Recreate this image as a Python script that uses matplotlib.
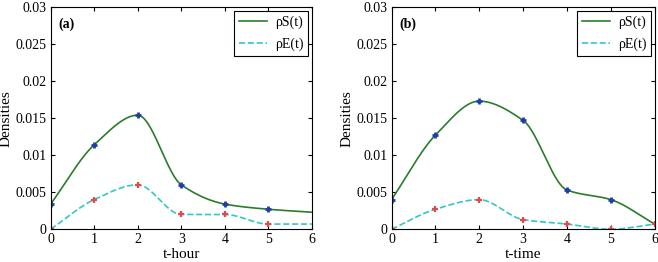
import numpy as np
import matplotlib
matplotlib.use("Agg")
import matplotlib.pyplot as plt

plt.rcParams['font.family'] = ['Liberation Serif', 'DejaVu Serif']

t = [0, 1, 2, 3, 4, 5, 6]
s_a = [0.0034, 0.0114, 0.0154, 0.0060, 0.0034, 0.0027, 0.0023]
e_a = [0.0, 0.0040, 0.0060, 0.0020, 0.0020, 0.0007, 0.0007]
s_b = [0.0040, 0.0127, 0.0173, 0.0147, 0.0053, 0.0040, 0.0007]
e_b = [0.0, 0.0027, 0.0040, 0.0013, 0.0007, 0.0000, 0.0007]
yticks = [0, 0.005, 0.01, 0.015, 0.02, 0.025, 0.03]
yticklabels = ['0', '0.005', '0.01', '0.015', '0.02', '0.025', '0.03']


def pchip(x, y, xs):
    x = np.asarray(x, float); y = np.asarray(y, float)
    h = np.diff(x); d = np.diff(y) / h
    n = len(x); m = np.zeros(n)
    for k in range(1, n - 1):
        if d[k - 1] * d[k] > 0:
            w1 = 2 * h[k] + h[k - 1]; w2 = h[k] + 2 * h[k - 1]
            m[k] = (w1 + w2) / (w1 / d[k - 1] + w2 / d[k])
    m[0] = d[0]; m[-1] = d[-1]
    idx = np.clip(np.searchsorted(x, xs) - 1, 0, n - 2)
    tt = (xs - x[idx]) / h[idx]
    h00 = 2 * tt**3 - 3 * tt**2 + 1; h10 = tt**3 - 2 * tt**2 + tt
    h01 = -2 * tt**3 + 3 * tt**2; h11 = tt**3 - tt**2
    return h00 * y[idx] + h10 * h[idx] * m[idx] + h01 * y[idx + 1] + h11 * h[idx] * m[idx + 1]


fig = plt.figure(figsize=(6.58, 2.62), dpi=100)
panels = [
    (s_a, e_a, 't-hour', '(a)', [0.077, 0.125, 0.397, 0.848], 6, 6),
    (s_b, e_b, 't-time', '(b)', [0.595, 0.125, 0.400, 0.848], 6, 7),
]
xs = np.linspace(0, 6, 400)
for s, e, xl, lab, rect, ns, ne in panels:
    ax = fig.add_axes(rect)
    ax.plot(xs, pchip(t, s, xs), color='#2a7d2a', lw=1.2, label='ρS(t)')
    ax.plot(xs, pchip(t, e, xs), color='#33c6c6', lw=1.2, ls='--', label='ρE(t)')
    ax.plot(t[:ns], s[:ns], ls='none', marker='+', color='#1f3fa8', ms=5, mew=2)
    ax.plot(t[:ne], e[:ne], ls='none', marker='+', color='#e04a4a', ms=5, mew=1.6)
    ax.set_xlim(0, 6); ax.set_ylim(0, 0.03)
    ax.set_xticks(t)
    ax.set_yticks(yticks); ax.set_yticklabels(yticklabels)
    ax.tick_params(direction='in', top=True, right=True, labelsize=10, length=3, pad=3)
    ax.set_xlabel(xl, fontsize=11, labelpad=1)
    ax.set_ylabel('Densities', fontsize=11, labelpad=2)
    ax.text(0.03, 0.955, lab, transform=ax.transAxes, fontsize=10, fontweight='bold', va='top')
    leg = ax.legend(loc='upper right', fontsize=10, frameon=True, fancybox=False,
                    edgecolor='black', framealpha=1, handlelength=2.0, handletextpad=0.6,
                    borderaxespad=0.25, labelspacing=0.6, borderpad=0.35)
    leg.get_frame().set_linewidth(0.8)
    for sp in ax.spines.values():
        sp.set_linewidth(0.8)

fig.savefig('out.png', dpi=100)
